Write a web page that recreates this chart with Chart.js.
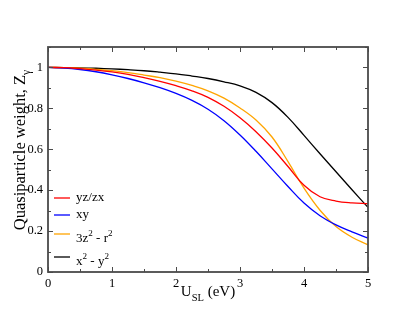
<!DOCTYPE html>
<html lang="en">
<head>
    <meta charset="UTF-8">
    <script src="https://cdn.jsdelivr.net/npm/chart.js"></script>
    <title>Quasiparticle weight</title>
    <style>
        html, body { margin: 0; padding: 0; background: #ffffff; }
        #wrap { width: 415px; height: 321px; }
    </style>
</head>
<body>
    <div id="wrap"><canvas id="zChart" width="415" height="321"></canvas></div>
<script>
    // U_SL (eV) sample points
    const uSL = [0, 0.25, 0.5, 0.75, 1, 1.25, 1.5, 1.75, 2, 2.25, 2.5, 2.75, 3, 3.25, 3.5, 3.75, 4, 4.25, 4.5, 4.75, 5];

    // Z values
    const zYzZx = [1.000, 0.999, 0.994, 0.987, 0.978, 0.966, 0.950, 0.932, 0.911, 0.886, 0.854, 0.810, 0.754, 0.686, 0.606, 0.516, 0.424, 0.368, 0.347, 0.338, 0.334];
    const zXy   = [1.000, 0.997, 0.990, 0.979, 0.964, 0.946, 0.925, 0.901, 0.873, 0.839, 0.796, 0.740, 0.670, 0.590, 0.504, 0.418, 0.337, 0.275, 0.230, 0.196, 0.166];
    const z3z2  = [1.000, 0.9995, 0.997, 0.991, 0.984, 0.975, 0.963, 0.950, 0.933, 0.912, 0.886, 0.850, 0.802, 0.743, 0.660, 0.540, 0.410, 0.302, 0.222, 0.170, 0.133];
    const zX2y2 = [1.000, 0.9995, 0.998, 0.996, 0.993, 0.989, 0.984, 0.977, 0.969, 0.958, 0.946, 0.930, 0.910, 0.878, 0.828, 0.756, 0.668, 0.578, 0.490, 0.402, 0.316];

    const seriesLabels = ['yz/zx', 'xy', '3z\u00b2 - r\u00b2', 'x\u00b2 - y\u00b2'];
    const seriesColors = ['#ff0000', '#0000ff', '#ffa500', '#000000'];
    const seriesValues = [zYzZx, zXy, z3z2, zX2y2];

    // legend text with super/subscripts
    const legendParts = [
        [['yz/zx', 'n']],
        [['xy', 'n']],
        [['3z', 'n'], ['2', 'sup'], [' - r', 'n'], ['2', 'sup']],
        [['x', 'n'], ['2', 'sup'], [' - y', 'n'], ['2', 'sup']]
    ];

    const serif = '"Liberation Serif", "DejaVu Serif", serif';

    function drawRich(ctx, parts, x, y, size) {
        let cx = x;
        parts.forEach(([txt, mode]) => {
            let fs = size, dy = 0;
            if (mode == 'sup') { fs = size * 0.7; dy = -size * 0.42; }
            if (mode == 'sub') { fs = size * 0.7; dy = size * 0.3; }
            ctx.font = fs + 'px ' + serif;
            ctx.fillText(txt, cx, y + dy);
            cx += ctx.measureText(txt).width;
        });
        return cx - x;
    }

    function richWidth(ctx, parts, size) {
        let w = 0;
        parts.forEach(([txt, mode]) => {
            const fs = (mode == 'n') ? size : size * 0.7;
            ctx.font = fs + 'px ' + serif;
            w += ctx.measureText(txt).width;
        });
        return w;
    }

    const decorPlugin = {
        id: 'decor',
        afterDatasetsDraw(chart) {
            const ctx = chart.ctx;
            const a = chart.chartArea;
            const xs = chart.scales.x, ys = chart.scales.y;
            ctx.save();
            // frame
            ctx.strokeStyle = '#4a4a4a';
            ctx.lineWidth = 1.8;
            ctx.strokeRect(a.left, a.top, a.right - a.left, a.bottom - a.top);
            // ticks inside on all sides
            ctx.lineWidth = 1;
            ctx.beginPath();
            for (let i = 0; i <= 10; i++) {
                const px = Math.round(xs.getPixelForValue(i * 0.5)) + 0.5;
                const len = (i % 2 == 0) ? 5 : 3;
                ctx.moveTo(px, a.bottom); ctx.lineTo(px, a.bottom - len);
                ctx.moveTo(px, a.top); ctx.lineTo(px, a.top + len);
            }
            for (let i = 0; i <= 11; i++) {
                const py = Math.round(ys.getPixelForValue(i * 0.1)) + 0.5;
                const len = (i % 2 == 0) ? 5 : 3;
                ctx.moveTo(a.left, py); ctx.lineTo(a.left + len, py);
                ctx.moveTo(a.right, py); ctx.lineTo(a.right - len, py);
            }
            ctx.stroke();

            // legend
            ctx.fillStyle = '#000';
            ctx.textBaseline = 'middle';
            const rowsY = [198, 215, 236, 259];
            const textShift = [0, 0, 3, 3];
            chart.data.datasets.forEach((ds, i) => {
                ctx.strokeStyle = ds.borderColor;
                ctx.lineWidth = 1.3;
                ctx.beginPath();
                const ly = (i < 2) ? rowsY[i] : rowsY[i] - 2;
                ctx.moveTo(54, ly); ctx.lineTo(70, ly);
                ctx.stroke();
                drawRich(ctx, legendParts[i], 76, rowsY[i] + textShift[i], 13);
            });

            // axis titles
            ctx.textBaseline = 'alphabetic';
            const xTitle = [['U', 'n'], ['SL', 'sub'], [' (eV)', 'n']];
            const xw = richWidth(ctx, xTitle, 15);
            drawRich(ctx, xTitle, (a.left + a.right) / 2 - xw / 2, 296, 15);

            const yTitle = [['Quasiparticle weight, Z', 'n'], ['\u03b3', 'sub']];
            const yw = richWidth(ctx, yTitle, 16.5);
            ctx.translate(25, 150);
            ctx.rotate(-Math.PI / 2);
            drawRich(ctx, yTitle, -yw / 2, 0, 16.5);
            ctx.restore();
        }
    };

    new Chart(document.getElementById('zChart'), {
        type: 'line',
        data: {
            datasets: seriesValues.map((vals, i) => ({
                label: seriesLabels[i],
                data: uSL.map((u, k) => ({ x: u, y: vals[k] })),
                borderColor: seriesColors[i],
                backgroundColor: seriesColors[i],
                borderWidth: 1.3,
                pointRadius: 0,
                tension: 0.4,
                fill: false
            }))
        },
        options: {
            responsive: false,
            animation: false,
            devicePixelRatio: 1,
            layout: { padding: { top: 47, right: 47, left: 0, bottom: 0 } },
            plugins: {
                legend: { display: false },
                tooltip: { enabled: false }
            },
            scales: {
                x: {
                    type: 'linear',
                    min: 0,
                    max: 5,
                    grid: { display: false, drawTicks: false },
                    border: { display: false },
                    ticks: {
                        stepSize: 1,
                        padding: 4,
                        color: '#000',
                        font: { family: serif, size: 12.5 }
                    },
                    afterFit(s) { s.height = 49; }
                },
                y: {
                    min: 0,
                    max: 1.1,
                    grid: { display: false, drawTicks: false },
                    border: { display: false },
                    ticks: {
                        stepSize: 0.2,
                        includeBounds: false,
                        padding: 5,
                        color: '#000',
                        font: { family: serif, size: 12.5 },
                        callback: v => String(Number(v.toFixed(1)))
                    },
                    afterFit(s) { s.width = 48; }
                }
            }
        },
        plugins: [decorPlugin]
    });
</script>
</body>
</html>
